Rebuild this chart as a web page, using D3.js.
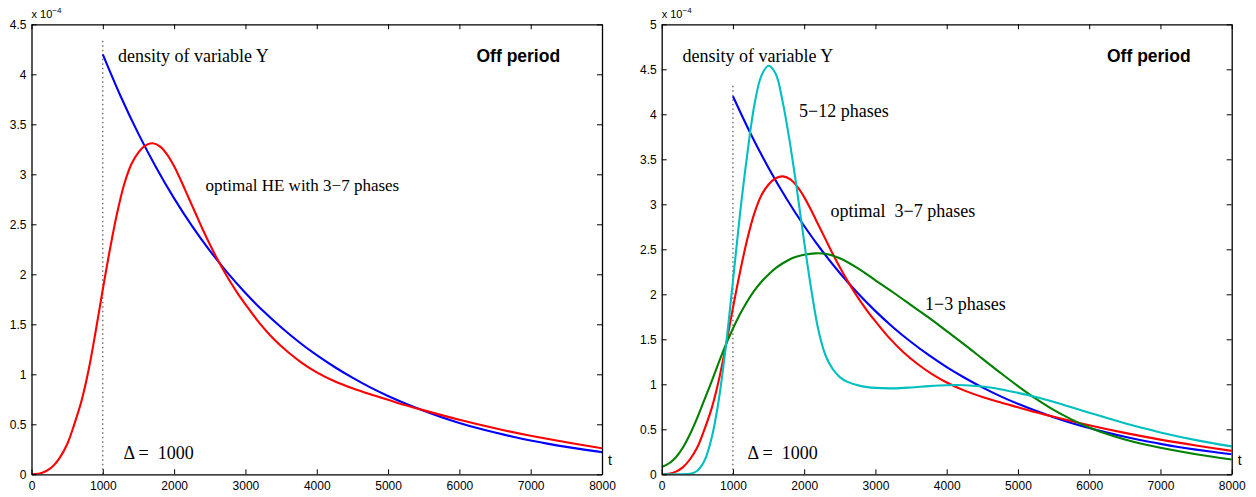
<!DOCTYPE html>
<html>
<head>
<meta charset="utf-8">
<script src="https://cdn.jsdelivr.net/npm/d3@7"></script>
<style>
  html, body { margin: 0; padding: 0; background: #fff; }
  svg { display: block; }
</style>
</head>
<body>
<div id="chart"></div>
<script>
// ---------------- data (values in units of 1e-4) ----------------
const xTicks = [0, 1000, 2000, 3000, 4000, 5000, 6000, 7000, 8000];
const yTicksLeft = [0, 0.5, 1, 1.5, 2, 2.5, 3, 3.5, 4, 4.5];
const yTicksRight = [0, 0.5, 1, 1.5, 2, 2.5, 3, 3.5, 4, 4.5, 5];
const yTickLabelsLeft = ["0", "0.5", "1", "1.5", "2", "2.5", "3", "3.5", "4", "4.5"];
const yTickLabelsRight = ["0", "0.5", "1", "1.5", "2", "2.5", "3", "3.5", "4", "4.5", "5"];

const deltaT = 1000;
const deltaLineTop = 4.35;

// density of variable Y (blue)
const tBlue = [1000, 1250, 1500, 1750, 2000, 2250, 2500, 2750, 3000, 3250, 3500, 3750, 4000, 4250, 4500, 4750, 5000, 5250, 5500, 5750, 6000, 6250, 6500, 6750, 7000, 7250, 7500, 7750, 8000];
const blueY = [4.200, 3.781, 3.404, 3.065, 2.759, 2.484, 2.237, 2.014, 1.813, 1.632, 1.470, 1.323, 1.191, 1.073, 0.966, 0.869, 0.783, 0.705, 0.635, 0.571, 0.514, 0.463, 0.417, 0.375, 0.338, 0.304, 0.274, 0.247, 0.222];

// optimal HE with 3-7 phases (red)
const tRed = [0, 100, 200, 300, 400, 500, 600, 700, 800, 900, 1000, 1100, 1200, 1300, 1400, 1500, 1600, 1700, 1800, 1900, 2000, 2100, 2200, 2300, 2400, 2500, 2600, 2700, 2800, 2900, 3000, 3200, 3400, 3600, 3800, 4000, 4250, 4500, 4750, 5000, 5250, 5500, 6000, 6500, 7000, 7500, 8000];
const redY = [0, 0.005, 0.03, 0.08, 0.17, 0.30, 0.50, 0.73, 1.04, 1.43, 1.85, 2.25, 2.61, 2.90, 3.10, 3.22, 3.29, 3.31, 3.28, 3.20, 3.08, 2.93, 2.77, 2.61, 2.45, 2.30, 2.16, 2.03, 1.91, 1.80, 1.70, 1.51, 1.35, 1.22, 1.11, 1.02, 0.93, 0.86, 0.80, 0.745, 0.69, 0.64, 0.545, 0.46, 0.385, 0.32, 0.26];

// 1-3 phases (green)
const tGreen = [0, 100, 200, 300, 400, 500, 600, 700, 800, 900, 1000, 1100, 1200, 1300, 1400, 1500, 1600, 1700, 1800, 1900, 2000, 2150, 2300, 2500, 2750, 3000, 3250, 3500, 3750, 4000, 4250, 4500, 4750, 5000, 5250, 5500, 5750, 6000, 6250, 6500, 6750, 7000, 7500, 8000];
const greenY = [0.08, 0.12, 0.19, 0.30, 0.45, 0.63, 0.83, 1.03, 1.24, 1.44, 1.62, 1.78, 1.92, 2.04, 2.14, 2.22, 2.29, 2.345, 2.39, 2.42, 2.44, 2.455, 2.45, 2.40, 2.29, 2.155, 2.02, 1.88, 1.74, 1.59, 1.44, 1.285, 1.13, 0.98, 0.84, 0.715, 0.61, 0.52, 0.447, 0.387, 0.337, 0.295, 0.223, 0.165];

// 5-12 phases (cyan)
const tCyan = [0, 200, 400, 500, 600, 700, 800, 900, 1000, 1100, 1200, 1300, 1400, 1500, 1600, 1700, 1800, 1900, 2000, 2100, 2200, 2300, 2400, 2500, 2600, 2800, 3000, 3250, 3500, 3750, 4000, 4250, 4500, 4750, 5000, 5250, 5500, 5750, 6000, 6250, 6500, 6750, 7000, 7500, 8000];
const cyanY = [0, 0, 0.005, 0.04, 0.15, 0.40, 0.82, 1.42, 2.15, 2.90, 3.55, 4.10, 4.43, 4.54, 4.45, 4.13, 3.68, 3.15, 2.58, 2.05, 1.60, 1.32, 1.17, 1.08, 1.03, 0.98, 0.96, 0.955, 0.965, 0.98, 0.99, 0.99, 0.975, 0.945, 0.905, 0.86, 0.805, 0.745, 0.685, 0.625, 0.568, 0.515, 0.465, 0.38, 0.31];

const colors = { blue: "#0000ff", red: "#ff0000", green: "#008000", cyan: "#00bfbf" };

// ---------------- drawing ----------------
const W = 1256, H = 497;
const svg = d3.select("#chart").append("svg").attr("width", W).attr("height", H);
svg.append("rect").attr("width", W).attr("height", H).attr("fill", "#fff");

const panels = [
  {
    left: 31.5, right: 602, top: 24.3, bottom: 474.3, yMax: 4.5,
    yTicks: yTicksLeft, yLabels: yTickLabelsLeft,
    series: [
      { t: tBlue, v: blueY, c: colors.blue },
      { t: tRed, v: redY, c: colors.red }
    ],
    texts: [
      { s: "density of variable Y", x: 118, y: 62, serif: true },
      { s: "optimal HE with 3\u22127 phases", x: 205.5, y: 191, serif: true, size: 17 },
      { s: "\u0394 =\u00a0 1000", x: 123.5, y: 459, serif: true },
      { s: "Off period", x: 476.5, y: 62, bold: true }
    ]
  },
  {
    left: 661.7, right: 1231.7, top: 24.3, bottom: 474.3, yMax: 5,
    yTicks: yTicksRight, yLabels: yTickLabelsRight,
    series: [
      { t: tBlue, v: blueY, c: colors.blue },
      { t: tRed, v: redY, c: colors.red },
      { t: tGreen, v: greenY, c: colors.green },
      { t: tCyan, v: cyanY, c: colors.cyan }
    ],
    texts: [
      { s: "density of variable Y", x: 682.5, y: 61.5, serif: true },
      { s: "5\u221212 phases", x: 799, y: 117, serif: true },
      { s: "optimal\u00a0 3\u22127 phases", x: 830.5, y: 216.5, serif: true },
      { s: "1\u22123 phases", x: 925, y: 310, serif: true },
      { s: "\u0394 =\u00a0 1000", x: 747.5, y: 459, serif: true },
      { s: "Off period", x: 1107, y: 62, bold: true }
    ]
  }
];

panels.forEach((p, i) => {
  const x = d3.scaleLinear().domain([0, 8000]).range([p.left, p.right]);
  const y = d3.scaleLinear().domain([0, p.yMax]).range([p.bottom, p.top]);
  const g = svg.append("g");

  const clipId = "clip" + i;
  svg.append("clipPath").attr("id", clipId).append("rect")
    .attr("x", p.left).attr("y", p.top - 1)
    .attr("width", p.right - p.left).attr("height", p.bottom - p.top + 1);

  // dotted delta line
  g.append("line")
    .attr("x1", x(deltaT)).attr("x2", x(deltaT))
    .attr("y1", y(0)).attr("y2", y(deltaLineTop))
    .attr("stroke", "#333").attr("stroke-width", 1)
    .attr("stroke-dasharray", "1.5,3");

  // curves
  const line = d3.line().x(d => x(d[0])).y(d => y(d[1])).curve(d3.curveCatmullRom.alpha(0.5));
  const cg = g.append("g").attr("clip-path", `url(#${clipId})`);
  p.series.forEach(s => {
    const pts = s.t.map((t, k) => [t, s.v[k]]);
    cg.append("path").datum(pts)
      .attr("d", line)
      .attr("fill", "none")
      .attr("stroke", s.c)
      .attr("stroke-width", 2.1)
      .attr("stroke-linejoin", "round");
  });

  // axes
  const fontSans = "'Liberation Sans', Arial, Helvetica, sans-serif";
  const ax = [
    g.append("g").attr("transform", `translate(0,${p.bottom})`)
      .call(d3.axisBottom(x).tickValues(xTicks).tickSizeInner(-5).tickSizeOuter(0).tickPadding(7).tickFormat(d3.format("d"))),
    g.append("g").attr("transform", `translate(0,${p.top})`)
      .call(d3.axisTop(x).tickValues(xTicks).tickSizeInner(-5).tickSizeOuter(0).tickFormat("")),
    g.append("g").attr("transform", `translate(${p.left},0)`)
      .call(d3.axisLeft(y).tickValues(p.yTicks).tickSizeInner(-5).tickSizeOuter(0).tickPadding(5)
        .tickFormat((d, k) => p.yLabels[k])),
    g.append("g").attr("transform", `translate(${p.right},0)`)
      .call(d3.axisRight(y).tickValues(p.yTicks).tickSizeInner(-5).tickSizeOuter(0).tickFormat(""))
  ];
  ax.forEach(a => {
    a.select(".domain").attr("stroke", "#000").attr("stroke-width", 1.3);
    a.selectAll(".tick line").attr("stroke", "#000").attr("stroke-width", 1);
    a.selectAll(".tick text").attr("font-family", fontSans).attr("font-size", 12).attr("fill", "#000");
  });

  // exponent label
  const ex = g.append("text").attr("x", p.left).attr("y", 18)
    .attr("font-family", fontSans).attr("font-size", 11).attr("fill", "#000");
  ex.append("tspan").text("x 10");
  ex.append("tspan").attr("dy", -5).attr("font-size", 8).text("\u22124");

  // t label
  g.append("text").attr("x", p.right + 6).attr("y", 465)
    .attr("font-family", fontSans).attr("font-size", 14).attr("fill", "#000").text("t");

  // annotations
  p.texts.forEach(tx => {
    g.append("text").attr("x", tx.x).attr("y", tx.y)
      .attr("font-family", tx.serif ? "'Liberation Serif', 'Times New Roman', serif" : fontSans)
      .attr("font-weight", tx.bold ? "bold" : "normal")
      .attr("font-size", tx.size ? tx.size : (tx.bold ? 17.5 : 18))
      .attr("fill", "#000")
      .text(tx.s);
  });
});
</script>
</body>
</html>
